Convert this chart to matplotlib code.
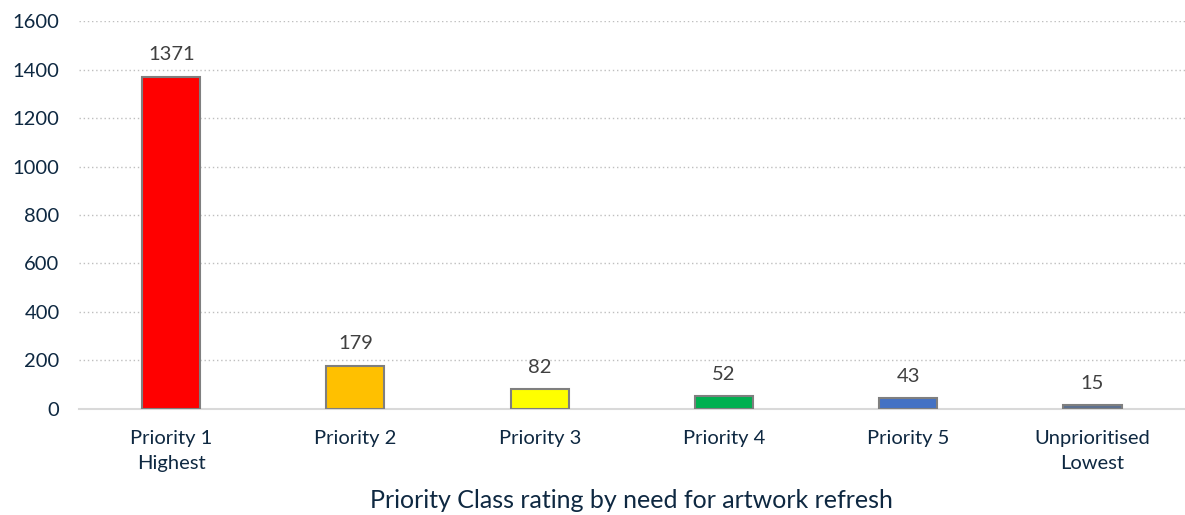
import matplotlib.pyplot as plt
import numpy as np

categories = ['Priority 1\nHighest', 'Priority 2', 'Priority 3', 'Priority 4',
              'Priority 5', 'Unprioritised\nLowest']
counts = [1371, 179, 82, 52, 43, 15]
colors = ['#FF0000', '#FFC000', '#FFFF00', '#00B050', '#4472C4', '#5B7090']

plt.rcParams['font.family'] = ['Lato', 'DejaVu Sans']
navy = '#0E2841'

fig = plt.figure(figsize=(11.85, 5.15), dpi=100)
ax = fig.add_axes([0.0667, 0.206, 0.933, 0.753])

x = np.arange(len(categories))
bars = ax.bar(x, counts, width=0.315, color=colors, edgecolor='#7F7F7F', linewidth=1.5, zorder=3)

for xi, v in zip(x, counts):
    ax.text(xi, v + 55, str(v), ha='center', va='bottom', fontsize=14.5, color='#404040')

ax.set_xlim(-0.5, len(categories) - 0.5)
ax.set_ylim(0, 1600)
ax.set_yticks(range(0, 1601, 200))
ax.grid(axis='y', linestyle=(0, (1, 2)), color='#BFBFBF', linewidth=1, zorder=0)

ax.set_xticks(x)
ax.set_xticklabels(categories, fontsize=14.5, color=navy, linespacing=1.6)
ax.tick_params(axis='y', labelsize=14.5, labelcolor=navy, length=0, pad=14)
ax.tick_params(axis='x', length=0, pad=15)

for s in ['top', 'right', 'left']:
    ax.spines[s].set_visible(False)
ax.spines['bottom'].set_color('#D9D9D9')
ax.spines['bottom'].set_linewidth(1.5)

ax.set_xlabel('Priority Class rating by need for artwork refresh', fontsize=18, color=navy, labelpad=12)

fig.savefig('out.png', dpi=100)
